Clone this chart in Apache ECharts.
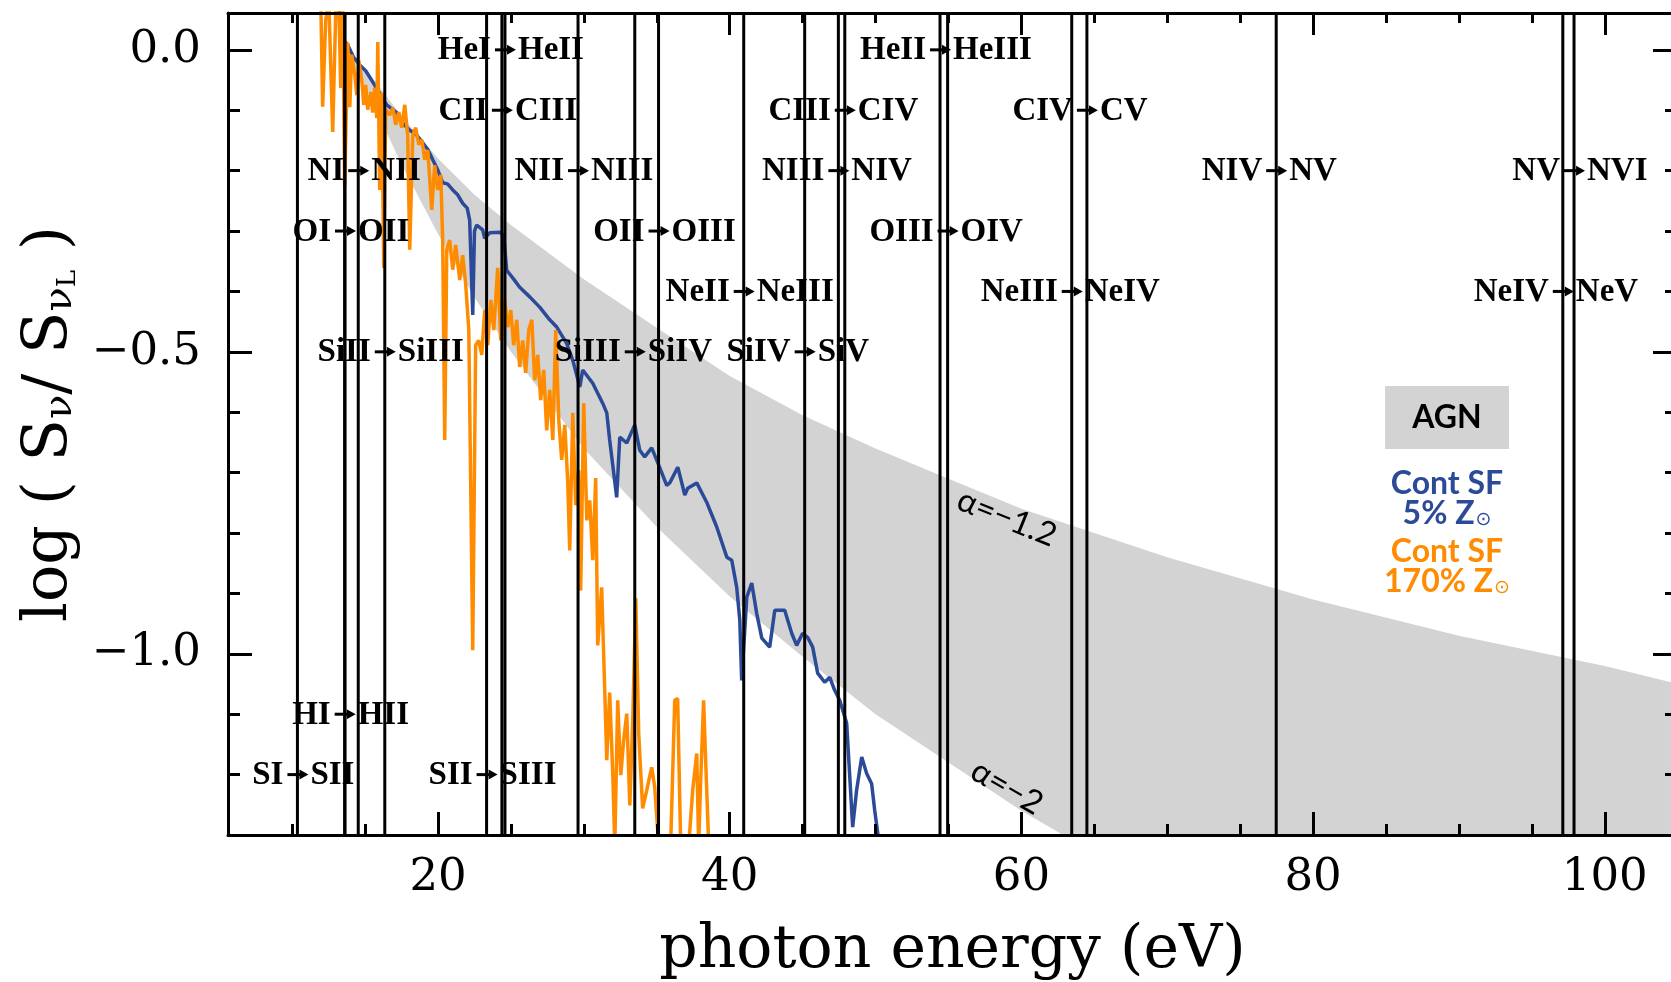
<!DOCTYPE html>
<html><head><meta charset="utf-8">
<script src="https://cdn.jsdelivr.net/npm/echarts@6/dist/echarts.min.js"></script>
<style>html,body{margin:0;padding:0;background:#fff}#c{width:1671px;height:982px}</style>
</head><body><div id="c"></div>
<script>
// ---------- data ----------
const xMajorTicks = [20, 40, 60, 80, 100];
const xMinorTicks = [10, 15, 25, 30, 35, 45, 50, 55, 65, 70, 75, 85, 90, 95];
const yMajorTicks = [0, -0.5, -1.0];
const yMinorTicks = [-0.1, -0.2, -0.3, -0.4, -0.6, -0.7, -0.8, -0.9, -1.1, -1.2];

// ionisation energies (eV) drawn as vertical lines
const ionEnergies = [10.36, 13.60, 13.62, 14.53, 16.35, 23.33, 24.38, 24.59, 29.60, 33.49, 35.12,
  40.96, 45.14, 47.45, 47.89, 54.42, 54.94, 63.45, 64.49, 77.47, 97.12, 97.89];

// transition labels
const labelFrom = ['HeI','HeII','CII','CIII','CIV','NI','NII','NIII','NIV','NV','OI','OII','OIII','NeII','NeIII','NeIV','SiII','SiIII','SiIV','HI','SI','SII'];
const labelTo   = ['HeII','HeIII','CIII','CIV','CV','NII','NIII','NIV','NV','NVI','OII','OIII','OIV','NeIII','NeIV','NeV','SiIII','SiIV','SiV','HII','SII','SIII'];
const labelE = [24.59, 54.42, 24.38, 47.89, 64.49, 14.53, 29.60, 47.45, 77.47, 97.89, 13.62, 35.12, 54.94, 40.96, 63.45, 97.12, 16.35, 33.49, 45.14, 13.60, 10.36, 23.33];
const labelY = [0, 0, -0.1, -0.1, -0.1, -0.2, -0.2, -0.2, -0.2, -0.2, -0.3, -0.3, -0.3, -0.4, -0.4, -0.4, -0.5, -0.5, -0.5, -1.1, -1.2, -1.2];

// AGN band edges (alpha = -1.2 upper, alpha = -2 lower)
const bandUpperE = [13.6, 15, 17.5, 20, 22.5, 25, 30, 35, 40, 45, 50, 55, 60, 70, 80, 90, 100, 105];
const bandUpperY = [0.0, -0.03, -0.11, -0.18, -0.24, -0.29, -0.38, -0.46, -0.54, -0.605, -0.66, -0.71, -0.76, -0.84, -0.91, -0.97, -1.02, -1.05];
const bandLowerE = [13.6, 15, 17.5, 20, 22.5, 25, 27.5, 30, 35, 40, 45, 50, 55, 60, 65, 105];
const bandLowerY = [0.0, -0.06, -0.19, -0.305, -0.41, -0.50, -0.58, -0.66, -0.79, -0.905, -1.005, -1.10, -1.18, -1.26, -1.33, -1.40];

const alphaText = ['α=−1.2', 'α=−2'];
const alphaE = [59.0, 59.0];
const alphaY = [-0.775, -1.221];

// Cont SF 5% Zsun (blue)
const blueE = [13.20,13.47,13.81,14.20,14.63,15.05,15.52,16.00,16.48,16.85,17.17,17.60,18.06,18.50,18.95,19.30,19.64,20.00,20.32,20.65,21.01,21.35,21.69,22.00,22.17,22.38,22.50,22.65,23.06,23.20,23.54,24.23,24.50,24.71,25.20,25.60,26.29,26.97,27.66,28.14,28.82,29.24,29.72,29.92,30.61,31.29,31.57,31.77,32.25,32.46,32.94,33.49,33.83,34.17,34.65,35.06,35.68,35.89,36.44,36.92,37.12,37.74,38.42,39.11,39.80,40.14,40.48,40.69,40.82,41.17,41.51,41.85,42.20,42.74,43.09,43.77,44.25,44.59,45.00,45.35,45.69,46.03,46.51,46.86,47.19,47.54,48.02,48.43,48.70,49.05,49.39,49.73,49.94,50.15,50.30];
const blueY = [0.07,0.017,0.008,-0.012,-0.025,-0.035,-0.053,-0.072,-0.091,-0.098,-0.104,-0.122,-0.133,-0.140,-0.154,-0.165,-0.182,-0.200,-0.220,-0.222,-0.232,-0.240,-0.254,-0.262,-0.282,-0.439,-0.300,-0.290,-0.298,-0.312,-0.303,-0.302,-0.307,-0.365,-0.380,-0.393,-0.409,-0.426,-0.447,-0.459,-0.486,-0.514,-0.558,-0.530,-0.552,-0.585,-0.601,-0.646,-0.741,-0.641,-0.651,-0.621,-0.663,-0.674,-0.659,-0.683,-0.721,-0.717,-0.691,-0.737,-0.726,-0.717,-0.749,-0.790,-0.840,-0.845,-0.890,-0.944,-1.044,-0.906,-0.883,-0.933,-0.974,-0.989,-0.928,-0.928,-0.966,-0.986,-0.966,-0.973,-0.989,-1.032,-1.047,-1.039,-1.060,-1.077,-1.115,-1.287,-1.226,-1.171,-1.198,-1.215,-1.259,-1.297,-1.33];

// Cont SF 170% Zsun (orange)
const orangeE = [11.96,12.09,12.30,12.51,12.78,12.99,13.19,13.33,13.47,13.60,13.81,13.95,14.08,14.29,14.43,14.56,14.77,14.91,15.04,15.18,15.39,15.52,15.66,15.80,15.87,16.00,16.14,16.28,16.41,16.69,16.90,17.10,17.31,17.51,17.72,17.92,18.06,18.27,18.47,18.68,18.89,19.09,19.30,19.57,19.77,19.98,20.19,20.32,20.46,20.60,20.80,21.01,21.21,21.49,21.69,21.90,22.11,22.38,22.58,22.79,23.00,23.20,23.41,23.62,23.82,24.09,24.30,24.57,24.78,24.99,25.19,25.40,25.60,25.81,26.01,26.22,26.43,26.63,26.84,27.04,27.25,27.45,27.66,27.87,28.07,28.28,28.48,28.69,28.89,29.03,29.24,29.44,29.65,29.78,29.99,30.20,30.40,30.61,30.81,30.95,31.22,31.43,31.57,31.77,31.98,32.12,32.32,32.53,32.73,32.94,33.15,33.35,33.56,33.76,34.03,34.31,34.65,34.86,35.13,35.40,35.68,35.95,36.23,36.43,36.64,36.91,37.19,37.46,37.74,37.87,38.01,38.21,38.35,38.56];
const orangeY = [0.083,-0.094,0.050,0.083,-0.136,0.066,0.083,-0.063,0.066,-0.227,0.012,-0.095,-0.008,-0.041,-0.075,-0.017,-0.050,-0.091,-0.058,-0.099,-0.070,-0.104,-0.063,-0.113,0.013,-0.232,-0.071,-0.361,-0.099,-0.108,-0.096,-0.124,-0.103,-0.129,-0.091,-0.141,-0.331,-0.141,-0.129,-0.157,-0.149,-0.182,-0.166,-0.265,-0.191,-0.232,-0.207,-0.315,-0.646,-0.331,-0.315,-0.364,-0.323,-0.381,-0.340,-0.389,-0.464,-0.994,-0.489,-0.481,-0.505,-0.431,-0.489,-0.414,-0.464,-0.361,-0.481,-0.414,-0.459,-0.431,-0.489,-0.447,-0.525,-0.481,-0.535,-0.464,-0.447,-0.547,-0.505,-0.580,-0.530,-0.630,-0.563,-0.646,-0.464,-0.613,-0.679,-0.621,-0.713,-0.829,-0.601,-0.754,-0.696,-0.895,-0.585,-0.779,-0.746,-0.845,-0.709,-0.986,-0.890,-1.060,-1.176,-1.064,-1.198,-1.317,-1.077,-1.201,-1.143,-1.099,-1.251,-1.110,-0.908,-1.132,-1.256,-1.226,-1.188,-1.221,-1.317,-1.317,-1.317,-1.317,-1.077,-1.074,-1.317,-1.317,-1.317,-1.226,-1.165,-1.317,-1.210,-1.077,-1.176,-1.317];

// ---------- chart ----------
const X_MIN = 5.6, X_MAX = 104.95, Y_MIN = -1.30, Y_MAX = 0.061;
const BLUE = '#2B4A97', ORANGE = '#FF8C00', BAND = '#D3D3D3';
const SERIF = '"DejaVu Serif", serif';
const LBLFONT = 'bold 33px "Liberation Serif", serif';

function xAx(pos, ticks, len, labels, extra) {
  return Object.assign({
    type: 'value', position: pos, min: X_MIN, max: X_MAX, z: 10,
    axisLine: { show: labels !== null, onZero: false, lineStyle: { color: '#000', width: 3 } },
    axisTick: { show: true, inside: true, length: len, customValues: ticks, lineStyle: { color: '#000', width: 3 } },
    axisLabel: labels ? labels : { show: false },
    splitLine: { show: false }
  }, extra || {});
}
function yAx(pos, ticks, len, labels, extra) {
  return Object.assign({
    type: 'value', position: pos, min: Y_MIN, max: Y_MAX, z: 10,
    axisLine: { show: labels !== null, onZero: false, lineStyle: { color: '#000', width: 3 } },
    axisTick: { show: true, inside: true, length: len, customValues: ticks, lineStyle: { color: '#000', width: 3 } },
    axisLabel: labels ? labels : { show: false },
    splitLine: { show: false }
  }, extra || {});
}

const xLabels = { show: true, customValues: xMajorTicks, margin: 21, color: '#000', fontFamily: SERIF, fontSize: 45 };
const yLabels = { show: true, customValues: yMajorTicks, margin: 27, color: '#000', fontFamily: SERIF, fontSize: 45,
  formatter: v => (Math.abs(v) < 1e-9 ? '0.0' : (v < 0 ? '\u2212' : '') + Math.abs(v).toFixed(1)) };

const chart = echarts.init(document.getElementById('c'), null, { renderer: 'canvas' });
chart.setOption({
  animation: false,
  backgroundColor: '#fff',
  grid: { left: 228, right: -6, top: 13, bottom: 147, containLabel: false, outerBoundsMode: 'none' },
  xAxis: [
    xAx('bottom', xMajorTicks, 23, xLabels, {
      name: 'photon energy (eV)', nameLocation: 'middle', nameGap: 86,
      nameTextStyle: { fontFamily: SERIF, fontSize: 60, color: '#000' } }),
    xAx('bottom', xMinorTicks, 11, null),
    xAx('top', xMajorTicks, 22, { show: false }),
    xAx('top', xMinorTicks, 10, null)
  ],
  yAxis: [
    yAx('left', yMajorTicks, 24, yLabels, {
      name: '{a|log ( S}{b|ν}{a|/ S}{b|ν}{c|L}{a| )}', nameLocation: 'middle', nameGap: 140, nameRotate: 90,
      nameTextStyle: { fontFamily: SERIF, fontSize: 62, color: '#000',
        rich: {
          a: { fontFamily: SERIF, fontSize: 62, color: '#000' },
          b: { fontFamily: SERIF, fontSize: 40, color: '#000', verticalAlign: 'bottom' },
          c: { fontFamily: SERIF, fontSize: 26, color: '#000', verticalAlign: 'bottom', padding: [16, 0, 0, 0] }
        } } }),
    yAx('left', yMinorTicks, 12, null),
    yAx('right', yMajorTicks, 24, { show: false }),
    yAx('right', yMinorTicks, 12, null)
  ],
  graphic: [
    { type: 'rect', shape: { x: 1385, y: 386, width: 124, height: 63 }, style: { fill: BAND }, z: 20 },
    { type: 'text', x: 1447, y: 418, style: { text: 'AGN', font: 'bold 32px Lato, sans-serif', fill: '#000', align: 'center', verticalAlign: 'middle' }, z: 21 },
    { type: 'text', x: 1447, y: 484, style: { text: 'Cont SF', font: 'bold 32px Lato, sans-serif', fill: BLUE, align: 'center', verticalAlign: 'middle' }, z: 21 },
    { type: 'text', x: 1447, y: 514, style: { text: '5% Z{s|⊙}', font: 'bold 32px Lato, sans-serif', fill: BLUE, align: 'center', verticalAlign: 'middle',
        rich: { s: { fontSize: 19, fontFamily: 'DejaVu Sans', fill: BLUE, verticalAlign: 'bottom', padding: [6, 0, 0, 1] } } }, z: 21 },
    { type: 'text', x: 1447, y: 552, style: { text: 'Cont SF', font: 'bold 32px Lato, sans-serif', fill: ORANGE, align: 'center', verticalAlign: 'middle' }, z: 21 },
    { type: 'text', x: 1447, y: 582, style: { text: '170% Z{s|⊙}', font: 'bold 32px Lato, sans-serif', fill: ORANGE, align: 'center', verticalAlign: 'middle',
        rich: { s: { fontSize: 19, fontFamily: 'DejaVu Sans', fill: ORANGE, verticalAlign: 'bottom', padding: [6, 0, 0, 1] } } }, z: 21 }
  ],
  series: [
    { // AGN band
      type: 'custom', name: 'AGN', clip: true, silent: true, z: 1,
      data: [[bandUpperE[0], bandUpperY[0]]],
      renderItem: (params, api) => {
        const pts = [];
        bandUpperE.forEach((e, i) => pts.push(api.coord([e, bandUpperY[i]])));
        for (let i = bandLowerE.length - 1; i >= 0; i--) pts.push(api.coord([bandLowerE[i], bandLowerY[i]]));
        return { type: 'polygon', shape: { points: pts, smooth: 0 }, style: { fill: BAND } };
      }
    },
    {
      type: 'line', name: 'Cont SF 5%', data: blueE.map((e, i) => [e, blueY[i]]),
      showSymbol: false, symbol: 'none', clip: true, z: 2,
      lineStyle: { color: BLUE, width: 3.5 }
    },
    {
      type: 'line', name: 'Cont SF 170%', data: orangeE.map((e, i) => [e, orangeY[i]]),
      showSymbol: false, symbol: 'none', clip: true, z: 3,
      lineStyle: { color: ORANGE, width: 3.5 }
    },
    { // ionisation edges
      type: 'custom', name: 'edges', clip: true, silent: true, z: 4,
      data: ionEnergies.map(e => [e, Y_MIN]),
      renderItem: (params, api) => {
        const a = api.coord([api.value(0), Y_MAX]);
        const b = api.coord([api.value(0), Y_MIN]);
        return { type: 'line', shape: { x1: a[0], y1: a[1], x2: b[0], y2: b[1] }, style: { stroke: '#000', lineWidth: 3 } };
      }
    },
    { // alpha labels
      type: 'custom', name: 'alpha', silent: true, z: 5,
      data: alphaE.map((e, i) => [e, alphaY[i]]),
      renderItem: (params, api) => {
        const p = api.coord([api.value(0), api.value(1)]);
        const rot = [22, 30][params.dataIndex] * Math.PI / 180;
        return { type: 'text', x: p[0], y: p[1], rotation: -rot,
          style: { text: alphaText[params.dataIndex], font: '33px Lato, sans-serif', fill: '#000', align: 'center', verticalAlign: 'middle' } };
      }
    },
    { // transition labels
      type: 'custom', name: 'labels', silent: true, z: 6,
      data: labelE.map((e, i) => [e, labelY[i]]),
      renderItem: (params, api) => {
        const i = params.dataIndex;
        const p = api.coord([api.value(0), api.value(1)]);
        const x = p[0], y = p[1];
        return { type: 'group', children: [
          { type: 'text', x: x - 14, y: y + 1, style: { text: labelFrom[i], font: LBLFONT, fill: '#000', align: 'right', verticalAlign: 'middle' } },
          { type: 'text', x: x + 13, y: y + 1, style: { text: labelTo[i], font: LBLFONT, fill: '#000', align: 'left', verticalAlign: 'middle' } },
          { type: 'line', shape: { x1: x - 10, y1: y, x2: x + 3, y2: y }, style: { stroke: '#000', lineWidth: 3 } },
          { type: 'polygon', shape: { points: [[x + 2, y - 5], [x + 11, y], [x + 2, y + 5]] }, style: { fill: '#000' } }
        ] };
      }
    }
  ]
});
</script>
</body></html>
